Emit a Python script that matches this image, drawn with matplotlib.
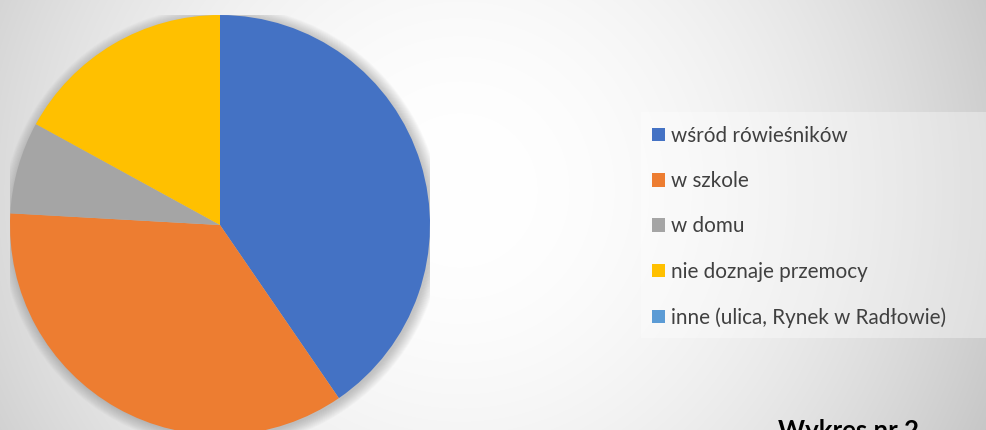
import numpy as np
import matplotlib
matplotlib.use("Agg")
import matplotlib.pyplot as plt
from matplotlib.patches import Circle, Rectangle

categories = ["wśród rówieśników", "w szkole", "w domu",
              "nie doznaje przemocy", "inne (ulica, Rynek w Radłowie)"]
values = [57, 50, 10, 24, 0]
colors = ["#4472C4", "#ED7D31", "#A5A5A5", "#FFC000", "#5B9BD5"]
chart_label = "Wykres nr 2"

W, H = 986, 430
fig = plt.figure(figsize=(W / 100, H / 100), dpi=100)

# background radial gradient
bg = fig.add_axes([0, 0, 1, 1])
yy, xx = np.mgrid[0:H, 0:W]
d2 = (xx - 460.0) ** 2 + (yy - 190.0) ** 2
v = 1 - 6.6e-7 * d2
v = np.clip(v, 0.78, 1.0)
img = np.dstack([v, v, v])
bg.imshow(img, extent=[0, W, H, 0], aspect="auto", interpolation="bilinear")
bg.set_xlim(0, W)
bg.set_ylim(H, 0)
bg.axis("off")

# legend backdrop
bg.add_patch(Rectangle((641, 112), W - 641, 226, facecolor="white",
                       alpha=0.35, edgecolor="none"))

# pie axes: center (220,225) px, radius 210 px
r = 210
cx, cy = 220, 225
ax = fig.add_axes([(cx - r) / W, (H - cy - r) / H, 2 * r / W, 2 * r / H])
ax.set_facecolor("none")
ax.patch.set_alpha(0)

# soft shadow
for i in range(14):
    ax.add_patch(Circle((0.008, -0.008), 1 + i * 0.004, facecolor="#707070",
                        alpha=0.03, edgecolor="none", zorder=0))

wedges, _ = ax.pie(values, colors=colors, startangle=90, counterclock=False,
                   radius=1, wedgeprops=dict(linewidth=0, zorder=2))
ax.set_xlim(-1, 1)
ax.set_ylim(-1, 1)
ax.set_aspect("equal")
ax.axis("off")

fs = 14.9
leg = fig.legend(wedges, categories, loc="upper left",
                 bbox_to_anchor=(652 / W, 1 - 126 / H),
                 frameon=False, borderpad=0, borderaxespad=0,
                 handlelength=0.63, handleheight=0.63, handletextpad=0.3,
                 labelspacing=1.22,
                 prop=dict(family="Lato", size=fs))
for t in leg.get_texts():
    t.set_color("#404040")

fig.text(848 / W, 1 - 419 / H, chart_label, ha="center", va="top",
         family="Lato", fontweight="bold", fontsize=18.5, color="black")

fig.savefig("out.png", dpi=100)
